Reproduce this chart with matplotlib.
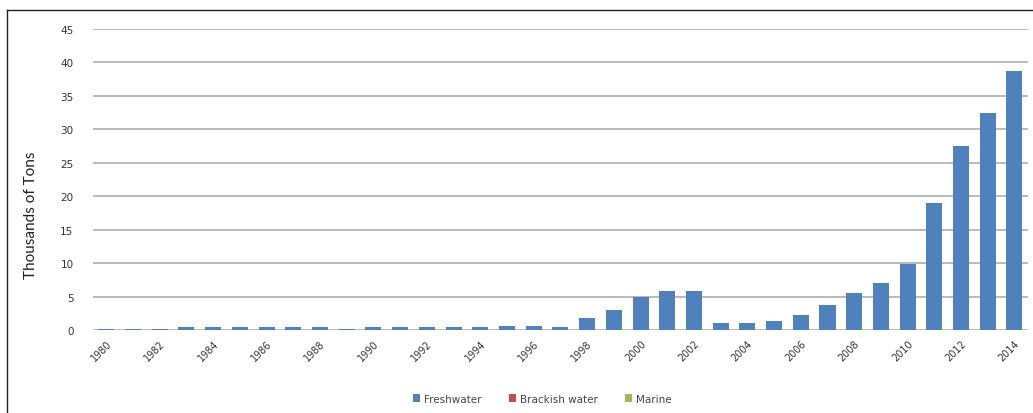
import matplotlib.pyplot as plt
import numpy as np
from matplotlib.lines import Line2D
from matplotlib.patches import Patch

# ---- data (thousands of tons) ----
years = list(range(1980, 2015))
freshwater = [0.2, 0.2, 0.2, 0.5, 0.5, 0.5, 0.5, 0.5, 0.5, 0.2,
              0.5, 0.5, 0.5, 0.5, 0.5, 0.6, 0.6, 0.4, 1.8, 3.0,
              5.0, 5.9, 5.9, 1.0, 1.0, 1.3, 2.2, 3.8, 5.5, 7.1,
              9.9, 19.0, 27.5, 32.4, 38.7]
brackish = [0] * len(years)
marine = [0] * len(years)
series_names = ['Freshwater', 'Brackish water', 'Marine']
series_colors = ['#4f81bd', '#c0504d', '#9bbb59']

fig = plt.figure(figsize=(10.33, 4.14), dpi=100)
ax = fig.add_axes([0.090, 0.2005, 0.905, 0.727])

x = np.arange(len(years))
ax.bar(x, freshwater, width=0.6, color=series_colors[0], zorder=3)

ax.set_xlim(-0.5, len(years) - 0.5)
ax.set_ylim(0, 45)
ax.set_yticks(range(0, 50, 5))
ax.tick_params(axis='y', length=0, labelsize=7.5, labelcolor='#333333', pad=14)
ax.set_xticks(x[::2])
ax.set_xticklabels([str(y) for y in years[::2]], rotation=45, ha='right',
                   rotation_mode='anchor', fontsize=7, color='#333333')
ax.tick_params(axis='x', length=0, pad=6)
ax.grid(axis='y', color='#b4b4b4', linewidth=1.3, zorder=0)
for s in ax.spines.values():
    s.set_visible(False)
ax.axhline(0, color='#c8bfb0', linewidth=1.2, zorder=2)

fig.text(0.030, 0.48, 'Thousands of Tons', rotation=90, ha='center', va='center',
         fontsize=11, family='Lato', color='#222222')

handles = [Patch(facecolor=c, edgecolor='none') for c in series_colors]
fig.legend(handles, series_names, loc='center', bbox_to_anchor=(0.525, 0.035),
           ncol=3, frameon=False, fontsize=7.5, handlelength=0.7, handleheight=0.7,
           handletextpad=0.4, columnspacing=2.6, labelcolor='#444444')

# outer frame (left and top edges visible)
fig.add_artist(Line2D([7 / 1033, 7 / 1033], [0, 1 - 11 / 414], color='#222222', lw=1.0,
                      transform=fig.transFigure))
fig.add_artist(Line2D([7 / 1033, 1], [1 - 11 / 414, 1 - 11 / 414], color='#222222', lw=1.0,
                      transform=fig.transFigure))

fig.savefig('out.png', dpi=100)
